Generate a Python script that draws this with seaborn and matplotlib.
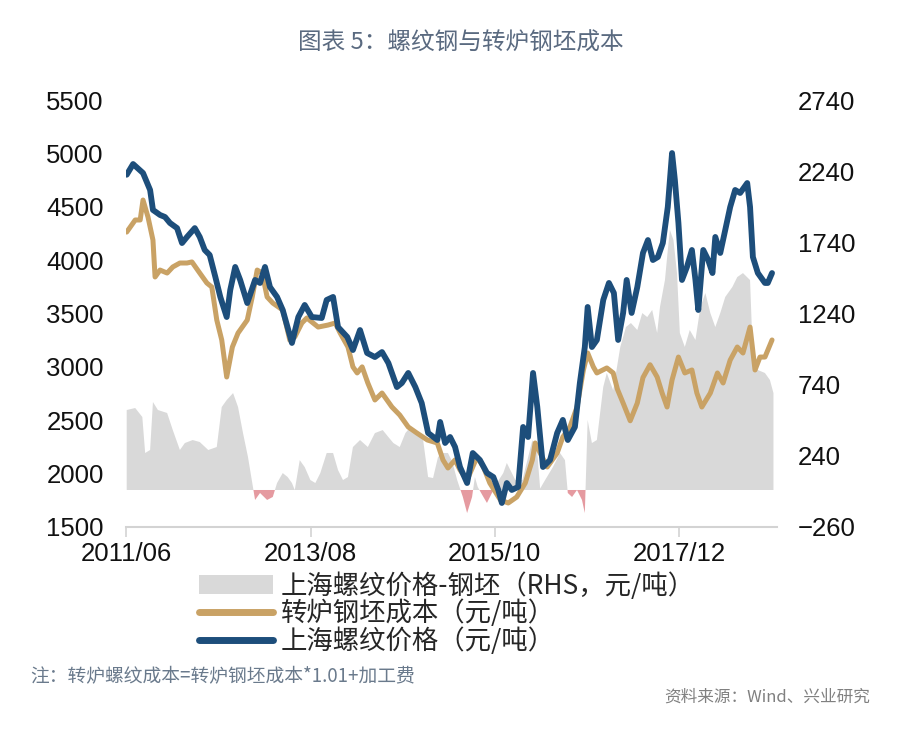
import numpy as np
import pandas as pd
import matplotlib
matplotlib.use('Agg')
import matplotlib.pyplot as plt
from matplotlib.patches import Patch
from matplotlib.lines import Line2D
import seaborn as sns

# ---- data (x = months since 2011/06) ----
rebar_m = [0.1, 1.0, 2.4, 3.4, 3.8, 4.8, 5.5, 6.2, 7.2, 7.9, 8.6, 9.7, 10.4, 11.1, 11.8, 12.6,
           13.3, 14.2, 14.7, 15.4, 16.1, 17.1, 18.2, 18.9, 19.6, 20.3, 21.3, 22.1, 23.4, 24.3,
           25.2, 26.2, 27.6, 28.3, 29.2, 29.9, 31.2, 32.0, 33.0, 34.0, 35.1, 36.1, 37.0, 38.2,
           38.9, 39.8, 40.8, 41.7, 42.6, 43.9, 44.3, 45.0, 45.7, 46.4, 47.1, 48.1, 48.9, 49.9,
           50.9, 51.8, 52.5, 53.0, 53.7, 54.4, 55.3, 56.0, 56.7, 57.4, 58.0, 58.8, 59.8, 60.8,
           61.6, 62.3, 63.3, 64.0, 64.7, 65.1, 65.7, 66.4, 67.3, 68.1, 68.8, 69.4, 70.1, 70.6,
           71.3, 72.1, 72.9, 73.6, 74.3, 75.0, 75.7, 76.4, 77.0, 77.4, 77.9, 78.4, 79.1, 79.8,
           80.3, 80.7, 81.4, 82.1, 82.7, 83.1, 83.8, 84.5, 85.2, 85.9, 86.6, 87.6, 88.0, 88.4,
           89.1, 90.1, 90.5, 91.1]
rebar_v = [4800, 4900, 4816, 4657, 4470, 4423, 4404, 4348, 4300, 4160, 4217, 4300, 4217, 4095,
           4048, 3842, 3655, 3467, 3720, 3936, 3814, 3598, 3814, 3786, 3936, 3748, 3655, 3533,
           3224, 3467, 3580, 3467, 3458, 3627, 3655, 3373, 3280, 3158, 3345, 3130, 3092, 3139,
           3036, 2811, 2849, 2943, 2811, 2661, 2381, 2315, 2484, 2287, 2343, 2250, 2062, 1912,
           2193, 2128, 2006, 1968, 1847, 1725, 1912, 1847, 1875, 2437, 2343, 2943, 2624, 2062,
           2128, 2381, 2503, 2315, 2437, 2849, 3186, 3561, 3186, 3252, 3627, 3786, 3692, 3252,
           3505, 3814, 3505, 3748, 4067, 4188, 4001, 4029, 4160, 4498, 5003, 4750, 4348, 3814,
           3936, 4095, 3814, 3533, 4095, 4001, 3879, 4217, 4067, 4282, 4498, 4657, 4629, 4722,
           4498, 4029, 3879, 3786, 3786, 3879]

cost_m = [0.1, 1.3, 2.0, 2.4, 3.1, 3.8, 4.1, 4.8, 5.8, 6.6, 7.6, 8.6, 9.3, 10.4, 11.4, 12.1,
          12.8, 13.5, 14.2, 15.0, 15.8, 17.1, 17.8, 18.5, 19.2, 19.9, 20.7, 22.1, 23.1, 23.8,
          24.8, 25.5, 27.1, 28.5, 29.5, 30.2, 31.3, 32.0, 32.6, 33.3, 34.1, 35.1, 36.1, 37.5,
          38.6, 39.8, 41.0, 42.5, 43.9, 44.7, 45.4, 46.4, 47.1, 48.1, 49.5, 50.4, 51.3, 52.8,
          53.9, 55.1, 56.3, 57.3, 57.7, 58.4, 59.4, 60.8, 61.6, 62.6, 63.6, 64.5, 65.1, 65.9,
          66.4, 67.8, 68.7, 69.3, 70.1, 71.1, 72.1, 72.9, 73.9, 74.9, 75.6, 76.3, 77.0, 77.9,
          78.8, 79.8, 80.5, 81.2, 82.4, 83.4, 84.2, 85.2, 86.2, 87.0, 88.0, 88.7, 89.4, 90.1,
          91.1]
cost_v = [4263, 4376, 4376, 4563, 4404, 4188, 3842, 3907, 3879, 3936, 3973, 3973, 3983, 3879,
          3786, 3748, 3439, 3252, 2905, 3186, 3317, 3439, 3655, 3907, 3879, 3655, 3598, 3533,
          3250, 3280, 3411, 3458, 3373, 3392, 3411, 3317, 3186, 3000, 2943, 3000, 2849, 2690,
          2755, 2624, 2549, 2437, 2381, 2315, 2287, 2128, 2053, 2128, 2034, 1940, 2156, 2062,
          1912, 1753, 1725, 1781, 1912, 2128, 2287, 2193, 2062, 2193, 2343, 2437, 2624, 2971,
          3130, 3000, 2943, 2990, 2943, 2790, 2661, 2495, 2661, 2900, 3020, 2905, 2755, 2624,
          2877, 3092, 2943, 2971, 2755, 2624, 2755, 2943, 2849, 3064, 3186, 3130, 3373, 2971,
          3092, 3092, 3252]

spread_m = [0.1, 1.3, 2.3, 2.7, 3.4, 3.8, 4.5, 5.8, 6.6, 7.6, 8.3, 9.4, 10.4, 11.6, 12.8, 13.5,
            14.2, 15.1, 15.8, 16.5, 17.2, 17.9, 18.2, 18.9, 19.9, 20.7, 21.3, 22.1, 22.8, 23.4,
            23.8, 24.5, 25.2, 26.0, 26.7, 27.4, 28.3, 29.2, 29.9, 30.6, 31.3, 32.0, 33.0, 34.1,
            35.1, 36.2, 37.0, 37.7, 38.6, 39.4, 40.1, 41.0, 41.9, 42.6, 43.3, 44.0, 44.7, 45.4,
            46.0, 46.7, 47.5, 48.1, 48.8, 49.2, 49.6, 50.4, 50.9, 51.6, 52.3, 53.2, 53.7, 54.2,
            54.9, 55.9, 56.6, 57.3, 58.0, 58.4, 59.1, 60.2, 61.2, 61.9, 62.3, 62.9, 63.6, 64.3,
            64.7, 65.1, 65.7, 66.4, 67.3, 67.8, 68.7, 69.7, 70.5, 71.2, 72.1, 72.8, 73.5, 74.2,
            74.9, 75.3, 76.0, 76.4, 76.7, 77.2, 77.7, 78.1, 78.8, 79.5, 80.3, 81.0, 81.7, 82.4,
            83.1, 83.8, 84.5, 85.5, 86.2, 87.0, 88.0, 88.4, 89.1, 90.1, 90.8, 91.3]
spread_v = [562, 576, 513, 260, 281, 618, 562, 541, 421, 281, 330, 351, 337, 281, 302, 583,
            632, 681, 583, 400, 232, 21, -70, -21, -70, -49, 49, 119, 91, 49,
            0, 210, 161, 70, 49, 119, 260, 260, 140, 70, 91, 302, 351, 302,
            400, 421, 372, 330, 302, 400, 442, 400, 351, 91, 84, 232, 260, 260,
            200, 70, -49, -162, -49, 91, 21, -49, -91, -21, 49, 119, 190, 140,
            70, 70, 210, 351, 260, 10, 70, 161, 260, 210, -21, -49, 0, -70,
            -162, 492, 330, 351, 724, 822, 700, 1005, 1145, 1173, 1124, 1243, 1215, 1265,
            1103, 1286, 1475, 1686, 1827, 1756, 1524, 1103, 1005, 1124, 1054, 1286, 1384, 1243,
            1145, 1243, 1356, 1426, 1496, 1524, 1475, 934, 843, 822, 773, 681]

x_tick_labels = ['2011/06', '2013/08', '2015/10', '2017/12']
left_ticks = [1500, 2000, 2500, 3000, 3500, 4000, 4500, 5000, 5500]
right_ticks = [-260, 240, 740, 1240, 1740, 2240, 2740]
labels = ['上海螺纹价格-钢坯（RHS，元/吨）', '转炉钢坯成本（元/吨）', '上海螺纹价格（元/吨）']

BLUE = '#1d4e7b'
GOLD = '#c9a265'
GRAY = '#d9d9d9'
PINK = '#e59aa0'

sns.set_theme(style='white')
plt.rcParams['font.family'] = ['Liberation Sans', 'Noto Sans CJK SC', 'DejaVu Sans']
plt.rcParams['axes.unicode_minus'] = True

base = pd.Timestamp('2011-06-01')
def to_dates(m):
    return base + pd.to_timedelta(np.asarray(m, dtype=float) * 30.4375, unit='D')

fig = plt.figure(figsize=(9, 7.32), dpi=100)
ax = fig.add_axes([126 / 900, 1 - 527 / 732, (777 - 126) / 900, (527 - 100) / 732])
ax2 = ax.twinx()
ax.set_zorder(ax2.get_zorder() + 1)
ax.patch.set_visible(False)

sd = to_dates(spread_m)
sv = np.array(spread_v, dtype=float)
ax2.fill_between(sd, 0, sv, where=sv >= 0, interpolate=True, color=GRAY, lw=0)
ax2.fill_between(sd, 0, sv, where=sv <= 0, interpolate=True, color=PINK, lw=0)

df_cost = pd.DataFrame({'date': to_dates(cost_m), 'v': cost_v})
df_rebar = pd.DataFrame({'date': to_dates(rebar_m), 'v': rebar_v})
sns.lineplot(data=df_cost, x='date', y='v', ax=ax, color=GOLD, lw=3.6, legend=False)
sns.lineplot(data=df_rebar, x='date', y='v', ax=ax, color=BLUE, lw=4.2, legend=False)

ax.set_xlim(base, to_dates([91.8])[0])
ax.set_ylim(1500, 5500)
ax.set_yticks(left_ticks)
ax2.set_ylim(-260, 2740)
ax2.set_yticks(right_ticks)
ax.set_xticks(pd.to_datetime(['2011-06-01', '2013-08-01', '2015-10-01', '2017-12-01']))
ax.set_xticklabels(x_tick_labels)
ax.set_xlabel('')
ax.set_ylabel('')
ax2.set_ylabel('')

for a in (ax, ax2):
    for s in a.spines.values():
        s.set_visible(False)
ax.spines['bottom'].set_visible(True)
ax.spines['bottom'].set_color('#d3d3d3')
ax.spines['bottom'].set_linewidth(1.5)

ax.tick_params(axis='x', direction='out', length=7, width=1.2, color='#d3d3d3',
               labelsize=18.5, pad=4, labelcolor='#111111', bottom=True)
ax.tick_params(axis='y', length=0, pad=16, labelsize=18.5, labelcolor='#111111')
ax2.tick_params(axis='y', length=0, pad=15, labelsize=18.5, labelcolor='#111111')

handles = [Patch(facecolor=GRAY, edgecolor='none'),
           Line2D([], [], color=GOLD, lw=5),
           Line2D([], [], color=BLUE, lw=5)]
fig.legend(handles, labels, loc='upper left', bbox_to_anchor=(199 / 900, 1 - 572 / 732),
           bbox_transform=fig.transFigure, frameon=False, borderpad=0, borderaxespad=0,
           handlelength=2.8, handletextpad=0.3, labelspacing=0.0,
           prop={'family': ['Noto Sans CJK SC'], 'size': 19})

fig.text(0.512, 1 - 43 / 732, '图表 5：螺纹钢与转炉钢坯成本', ha='center', va='center',
         fontsize=17, color='#5a6a80', family=['Noto Sans CJK SC'])
fig.text(30 / 900, 1 - 677 / 732, '注：转炉螺纹成本=转炉钢坯成本*1.01+加工费', ha='left', va='center',
         fontsize=13.5, color='#6a7a8c', family=['Noto Sans CJK SC'])
fig.text(870 / 900, 1 - 697 / 732, '资料来源：Wind、兴业研究', ha='right', va='center',
         fontsize=12, color='#808080', family=['Noto Sans CJK SC'])

fig.savefig('out.png', dpi=100)
